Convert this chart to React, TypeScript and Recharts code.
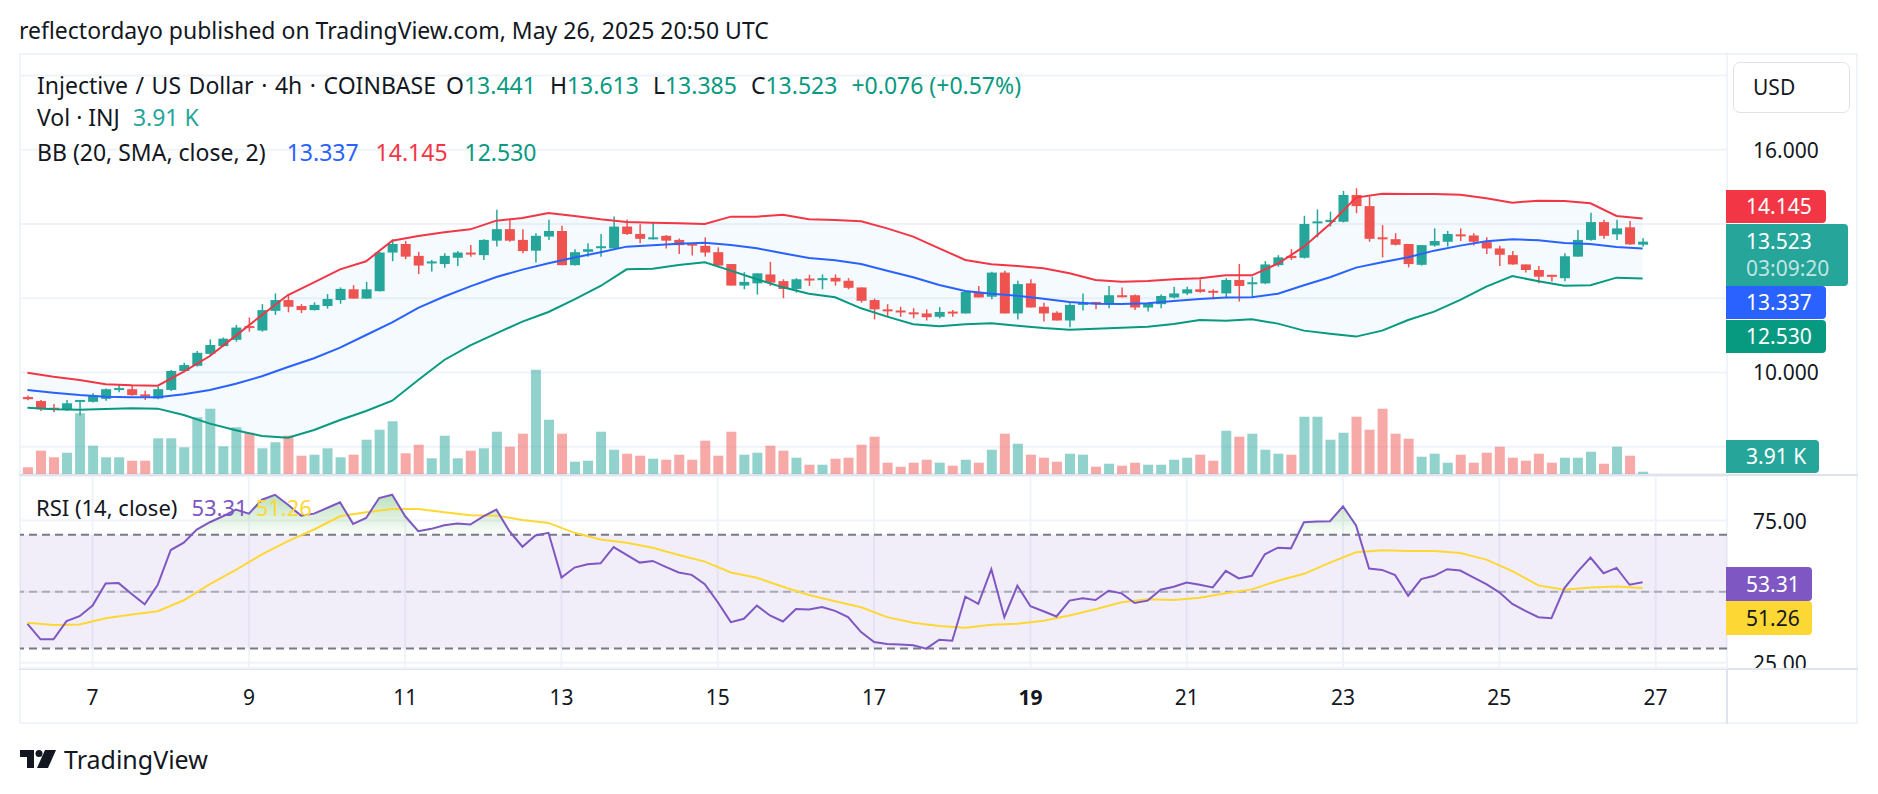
import React from 'react';
import {
  ComposedChart, Bar, Line, Area, XAxis, YAxis, CartesianGrid,
  ReferenceLine, ReferenceArea, Cell,
} from 'recharts';

// ---------- styling constants ----------
const FONT = '"Noto Sans", "Open Sans", Roboto, sans-serif';
const TEXT = '#131722';
const GREEN = '#26a69a';
const RED = '#ef5350';
const GRID = '#f0f3fa';
const SEP = '#e0e3eb';

// ---------- data ----------
// 4h candles, x index counted in 4h steps from May 6 00:00 UTC; first visible candle = index 1
const FIRST_INDEX = 1;

const OPEN = [9.34, 9.23, 9.05, 8.99, 9.23, 9.21, 9.29, 9.55, 9.55, 9.41,
  9.30, 9.53, 10.04, 10.18, 10.50, 10.71, 10.88, 11.25, 11.13, 11.66,
  11.95, 11.79, 11.68, 11.79, 11.95, 12.24, 11.99, 12.19, 13.23, 13.46,
  13.14, 12.94, 12.92, 13.09, 13.23, 13.16, 13.55, 13.86, 13.57, 13.28,
  13.66, 13.81, 12.89, 13.25, 13.37, 13.34, 13.93, 13.73, 13.59, 13.68,
  13.57, 13.47, 13.41, 13.24, 12.92, 12.34, 12.40, 12.64, 12.46, 12.25,
  12.53, 12.51, 12.55, 12.47, 12.29, 11.95, 11.70, 11.67, 11.62, 11.59,
  11.50, 11.64, 11.59, 12.17, 12.04, 12.69, 11.59, 12.40, 11.77, 11.61,
  11.40, 11.82, 11.90, 11.84, 12.08, 12.08, 11.75, 11.84, 12.02, 12.13,
  12.24, 12.20, 12.13, 12.49, 12.38, 12.40, 12.89, 13.14, 13.09, 14.03,
  14.05, 14.06, 14.78, 14.48, 13.64, 13.59, 13.46, 12.90, 13.42, 13.52,
  13.72, 13.69, 13.51, 13.34, 13.16, 12.91, 12.76, 12.63, 12.54, 13.12,
  13.57, 14.05, 13.72, 13.91, 13.441];

const HIGH = [9.38, 9.26, 9.15, 9.26, 9.26, 9.44, 9.57, 9.66, 9.64, 9.51,
  9.62, 10.07, 10.26, 10.58, 10.89, 10.94, 11.28, 11.48, 11.84, 12.13,
  12.09, 11.84, 11.89, 12.11, 12.29, 12.35, 12.44, 13.25, 13.59, 13.54,
  13.25, 13.03, 13.21, 13.27, 13.43, 13.59, 14.38, 14.13, 13.86, 13.75,
  14.11, 13.95, 13.32, 13.48, 13.73, 14.20, 14.12, 13.99, 14.04, 13.70,
  13.61, 13.47, 13.64, 13.37, 12.92, 12.70, 12.67, 12.98, 12.51, 12.54,
  12.63, 12.64, 12.64, 12.54, 12.29, 11.99, 11.84, 11.77, 11.73, 11.70,
  11.76, 11.68, 12.17, 12.33, 12.71, 12.74, 12.47, 12.51, 11.88, 11.65,
  11.88, 12.13, 11.90, 12.33, 12.29, 12.10, 11.88, 12.10, 12.31, 12.31,
  12.51, 12.24, 12.54, 12.92, 12.58, 13.00, 13.16, 13.32, 14.22, 14.39,
  14.33, 14.89, 14.96, 14.74, 13.97, 13.75, 13.46, 13.43, 13.88, 13.81,
  13.88, 13.75, 13.64, 13.41, 13.27, 12.91, 12.87, 12.63, 13.21, 13.84,
  14.30, 14.11, 14.11, 14.08, 13.613];

const LOW = [9.25, 8.96, 8.93, 8.96, 8.84, 9.19, 9.24, 9.47, 9.37, 9.26,
  9.28, 9.50, 10.01, 10.16, 10.44, 10.69, 10.83, 11.10, 11.10, 11.55,
  11.62, 11.60, 11.67, 11.72, 11.85, 11.99, 11.99, 12.18, 13.00, 13.05,
  12.65, 12.72, 12.82, 12.87, 13.12, 13.03, 13.39, 13.52, 13.21, 12.96,
  13.57, 12.89, 12.88, 13.12, 13.12, 13.30, 13.70, 13.48, 13.58, 13.34,
  13.19, 13.15, 13.12, 12.85, 12.34, 12.24, 12.10, 12.33, 12.00, 12.15,
  12.33, 12.24, 12.34, 12.24, 11.88, 11.43, 11.52, 11.50, 11.46, 11.40,
  11.46, 11.50, 11.59, 12.02, 11.97, 11.59, 11.43, 11.75, 11.37, 11.40,
  11.22, 11.67, 11.70, 11.73, 12.02, 11.68, 11.64, 11.73, 11.99, 12.09,
  12.15, 11.97, 12.00, 11.91, 12.03, 12.38, 12.85, 13.03, 13.07, 13.64,
  13.93, 14.04, 14.29, 13.52, 13.10, 13.42, 12.83, 12.88, 13.39, 13.39,
  13.54, 13.42, 13.19, 12.87, 12.90, 12.69, 12.40, 12.45, 12.46, 13.12,
  13.55, 13.60, 13.57, 13.43, 13.385];

const CLOSE = [9.28, 9.01, 9.02, 9.17, 9.26, 9.37, 9.55, 9.58, 9.39, 9.35,
  9.55, 10.04, 10.20, 10.53, 10.74, 10.91, 11.21, 11.21, 11.68, 11.95,
  11.77, 11.68, 11.82, 11.98, 12.25, 11.99, 12.24, 13.23, 13.46, 13.12,
  12.88, 12.99, 13.14, 13.23, 13.19, 13.57, 13.86, 13.55, 13.27, 13.68,
  13.81, 12.89, 13.24, 13.32, 13.40, 13.93, 13.73, 13.60, 13.64, 13.55,
  13.43, 13.42, 13.23, 12.88, 12.34, 12.44, 12.67, 12.42, 12.25, 12.51,
  12.49, 12.54, 12.45, 12.28, 11.93, 11.70, 11.65, 11.62, 11.58, 11.49,
  11.63, 11.61, 12.17, 12.02, 12.69, 11.59, 12.38, 11.75, 11.59, 11.40,
  11.82, 11.89, 11.85, 12.08, 12.04, 11.75, 11.86, 12.06, 12.13, 12.24,
  12.17, 12.16, 12.49, 12.33, 12.43, 12.91, 13.10, 13.08, 14.00, 14.07,
  14.11, 14.78, 14.48, 13.60, 13.59, 13.44, 12.92, 13.43, 13.54, 13.73,
  13.68, 13.52, 13.34, 13.17, 12.91, 12.76, 12.58, 12.58, 13.13, 13.57,
  14.05, 13.68, 13.88, 13.45, 13.523];

// volume in thousands of INJ
const VOLUME = [11.4, 39.6, 28.4, 36.2, 103.2, 48.1, 28.4, 28.4, 22.6, 22.6,
  60.7, 60.7, 45.4, 96.4, 111.0, 47.1, 79.4, 70.2, 43.7, 53.9,
  65.1, 31.1, 32.8, 43.7, 28.4, 32.8, 58.3, 75.3, 89.6, 35.2,
  49.8, 26.7, 65.1, 26.7, 39.6, 43.7, 71.9, 46.4, 68.5, 177.3,
  92.3, 68.5, 20.9, 22.6, 71.9, 41.3, 34.5, 31.1, 26.0, 24.3,
  32.8, 24.3, 56.6, 31.1, 71.9, 32.8, 36.2, 48.1, 39.6, 27.7,
  15.8, 15.8, 26.0, 27.7, 49.8, 63.4, 19.2, 12.4, 19.2, 24.3,
  19.2, 14.1, 24.3, 19.2, 41.3, 68.5, 51.5, 32.8, 27.7, 20.9,
  34.5, 32.8, 12.4, 17.5, 14.1, 19.2, 15.8, 15.8, 24.3, 27.7,
  32.8, 22.6, 73.6, 63.4, 68.5, 41.3, 34.5, 32.8, 97.4, 97.4,
  58.3, 70.2, 97.4, 75.3, 111.0, 68.5, 60.0, 29.4, 34.5, 19.2,
  32.8, 19.2, 36.2, 46.4, 27.7, 22.6, 34.5, 19.2, 27.7, 27.7,
  37.9, 17.5, 46.4, 31.1, 3.91];

// Bollinger bands, read at every second candle
const BB_IDX = [1, 3, 5, 7, 9, 11, 13, 15, 17, 19, 21, 23, 25, 27, 29, 31, 33, 35, 37, 39,
  41, 43, 45, 47, 49, 51, 53, 55, 57, 59, 61, 63, 65, 67, 69, 71, 73, 75, 77, 79,
  81, 83, 85, 87, 89, 91, 93, 95, 97, 99, 101, 103, 105, 107, 109, 111, 113, 115, 117, 119,
  121, 123, 125];
const BB_UPPER = [9.995, 9.888, 9.798, 9.681, 9.654, 9.645, 10.022, 10.444, 10.992, 11.548,
  12.087, 12.428, 12.778, 12.994, 13.550, 13.676, 13.775, 13.855, 14.089, 14.161,
  14.295, 14.215, 14.125, 14.053, 14.035, 14.017, 13.999, 14.197, 14.197, 14.250,
  14.125, 14.107, 14.071, 13.882, 13.658, 13.344, 13.030, 12.913, 12.868, 12.805,
  12.671, 12.491, 12.446, 12.464, 12.509, 12.536, 12.617, 12.617, 12.931, 13.389,
  14.000, 14.709, 14.816, 14.807, 14.807, 14.789, 14.691, 14.574, 14.628, 14.619,
  14.556, 14.215, 14.145];
const BB_MIDDLE = [9.529, 9.457, 9.394, 9.349, 9.331, 9.331, 9.412, 9.529, 9.699, 9.897,
  10.148, 10.382, 10.669, 11.010, 11.350, 11.740, 12.047, 12.320, 12.572, 12.770,
  12.943, 13.096, 13.236, 13.389, 13.425, 13.470, 13.496, 13.434, 13.344, 13.209,
  13.083, 13.021, 12.922, 12.742, 12.563, 12.356, 12.195, 12.123, 12.069, 11.988,
  11.899, 11.854, 11.845, 11.863, 11.925, 11.979, 12.016, 12.025, 12.123, 12.348,
  12.563, 12.824, 12.967, 13.102, 13.281, 13.416, 13.533, 13.587, 13.560, 13.488,
  13.461, 13.380, 13.337];
const BB_LOWER = [9.053, 9.008, 8.999, 9.017, 9.035, 9.026, 8.855, 8.622, 8.442, 8.290,
  8.245, 8.452, 8.721, 8.963, 9.241, 9.798, 10.337, 10.732, 11.055, 11.369,
  11.630, 11.970, 12.329, 12.778, 12.796, 12.895, 12.967, 12.742, 12.509, 12.293,
  12.123, 12.024, 11.728, 11.504, 11.297, 11.243, 11.297, 11.324, 11.261, 11.198,
  11.153, 11.180, 11.207, 11.234, 11.306, 11.414, 11.396, 11.432, 11.316, 11.127,
  11.046, 10.966, 11.127, 11.414, 11.639, 11.953, 12.312, 12.599, 12.455, 12.339,
  12.348, 12.554, 12.530];

const RSI = [38.72, 33.26, 33.26, 39.65, 41.40, 45.12, 52.91, 53.02, 49.19, 45.58,
  52.44, 64.65, 67.21, 71.86, 74.42, 76.51, 78.84, 77.44, 82.33, 84.07,
  80.58, 76.74, 77.44, 79.42, 81.40, 73.84, 75.93, 82.91, 84.07, 76.51,
  71.28, 72.09, 73.37, 73.95, 73.60, 76.51, 78.84, 71.28, 65.81, 69.77,
  70.70, 55.00, 58.49, 59.65, 60.00, 65.70, 62.91, 60.23, 60.81, 58.72,
  56.74, 55.93, 52.67, 46.28, 39.30, 40.47, 45.12, 41.63, 39.53, 43.95,
  43.72, 44.65, 43.26, 41.05, 35.81, 32.33, 31.63, 31.40, 31.16, 30.00,
  33.14, 32.79, 48.26, 45.70, 57.91, 41.05, 52.09, 44.88, 43.14, 41.28,
  46.86, 47.67, 47.09, 50.35, 49.42, 46.05, 46.86, 50.70, 51.74, 53.26,
  52.44, 51.51, 57.33, 54.65, 55.58, 63.14, 65.47, 65.23, 74.42, 74.65,
  74.77, 80.00, 73.26, 58.14, 57.67, 55.81, 48.60, 54.42, 55.58, 57.91,
  57.44, 55.00, 52.67, 49.77, 45.70, 43.26, 41.05, 40.70, 51.28, 56.98,
  61.98, 56.51, 58.37, 52.44, 53.31];

// RSI moving average, read at every second candle
const RSI_MA_IDX = BB_IDX;
const RSI_MA = [39.07, 38.26, 38.49, 40.70, 41.98, 43.14, 46.98, 52.67, 57.67, 63.14,
  67.79, 71.86, 76.51, 77.91, 79.07, 79.07, 77.91, 76.86, 76.74, 75.23,
  74.19, 70.70, 68.37, 67.21, 65.47, 62.91, 60.58, 56.74, 54.88, 51.74,
  48.84, 46.63, 44.53, 41.05, 39.07, 37.91, 37.33, 38.37, 38.72, 39.77,
  41.63, 43.84, 46.28, 47.33, 47.09, 47.91, 49.42, 50.81, 53.84, 56.28,
  60.23, 63.84, 64.53, 64.30, 64.30, 63.60, 61.28, 57.21, 52.21, 50.70,
  51.51, 51.86, 51.26];

// time axis: day-of-month labels (every 2 days), at candle index of 00:00 UTC
const DAY_TICKS = [6, 18, 30, 42, 54, 66, 78, 90, 102, 114, 126];
const DAY_LABELS = ['7', '9', '11', '13', '15', '17', '19', '21', '23', '25', '27'];
const DAY_BOLD = ['19'];

// grid levels; only the levels not hidden behind tags carry a visible label
const PRICE_TICKS = [8, 10, 12, 14, 16, 18];
const PRICE_LABELED = [10, 16];
const RSI_TICKS = [25, 50, 75];
const RSI_LABELED = [25, 75];

const CHANGE_TEXT = '+0.076 (+0.57%)';
const COUNTDOWN = '03:09:20';

// ---------- build table ----------
type Row = any;
const rows: Row[] = OPEN.map((o, k) => ({
  i: FIRST_INDEX + k,
  o, h: HIGH[k], l: LOW[k], c: CLOSE[k],
  range: [LOW[k], HIGH[k]],
  vol: VOLUME[k],
  rsi: RSI[k],
  ob: [70, Math.max(70, RSI[k])],
}));
BB_IDX.forEach((i, k) => {
  const r = rows[i - FIRST_INDEX];
  r.bbU = BB_UPPER[k];
  r.bbM = BB_MIDDLE[k];
  r.bbL = BB_LOWER[k];
  r.bbBand = [BB_LOWER[k], BB_UPPER[k]];
});
RSI_MA_IDX.forEach((i, k) => { rows[i - FIRST_INDEX].rsiMa = RSI_MA[k]; });

const last = rows[rows.length - 1];

// ---------- layout ----------
const CHART_LEFT = 20;
const CHART_W = 1838;
const AXIS_W = 131;
const AXIS_X = CHART_LEFT + CHART_W - AXIS_W; // 1727
const PRICE_TOP = 54;
const PRICE_H = 420;
const RSI_TOP = 476;
const RSI_PLOT_H = 192;
const TIME_H = 55;
const X_DOMAIN: [number, number] = [0.426, 131.48];
const P_DOMAIN: [number, number] = [7.266, 18.577];
const VOL_MAX = 714;
const R_DOMAIN: [number, number] = [23.18, 90.67];
const FS = 21;
const LFS = 23;

const priceY = (p: number) => PRICE_TOP + (P_DOMAIN[1] - p) / (P_DOMAIN[1] - P_DOMAIN[0]) * PRICE_H;
const volY = (v: number) => PRICE_TOP + PRICE_H - (v / VOL_MAX) * PRICE_H;
const rsiY = (r: number) => RSI_TOP + (R_DOMAIN[1] - r) / (R_DOMAIN[1] - R_DOMAIN[0]) * RSI_PLOT_H;

// ---------- custom renderers ----------
const Candle = (props: any) => {
  const { x, y, width, height, payload } = props;
  if (!payload || height == null) return null;
  const { o, h, l, c } = payload;
  const color = c >= o ? GREEN : RED;
  const k = height / (h - l);
  const yO = y + (h - o) * k;
  const yC = y + (h - c) * k;
  const top = Math.min(yO, yC);
  const bh = Math.max(Math.abs(yO - yC), 2);
  const cx = x + width / 2;
  return (
    <g>
      <line x1={cx} x2={cx} y1={y} y2={y + height} stroke={color} strokeWidth={1.5} />
      <rect x={x} y={top} width={width} height={bh} fill={color} />
    </g>
  );
};

const PriceTick = (props: any) => {
  const { x, y, payload } = props;
  if (!PRICE_LABELED.includes(payload.value)) return <g />;
  return (
    <text x={x + 18} y={y} dominantBaseline="central" textAnchor="start"
      fontSize={FS} fontFamily={FONT} fill={TEXT}>{Number(payload.value).toFixed(3)}</text>
  );
};

const RsiTick = (props: any) => {
  const { x, y, payload } = props;
  if (!RSI_LABELED.includes(payload.value)) return <g />;
  return (
    <g clipPath="url(#rsiAxisClip)">
      <text x={x + 18} y={y} dominantBaseline="central" textAnchor="start"
        fontSize={FS} fontFamily={FONT} fill={TEXT}>{Number(payload.value).toFixed(2)}</text>
    </g>
  );
};

const DayTick = (props: any) => {
  const { x, y, payload } = props;
  const k = DAY_TICKS.indexOf(payload.value);
  const label = DAY_LABELS[k] ?? '';
  return (
    <text x={x} y={y + 21} textAnchor="middle" dominantBaseline="central"
      fontSize={FS} fontFamily={FONT} fill={TEXT}
      fontWeight={DAY_BOLD.includes(label) ? 700 : 400}>{label}</text>
  );
};

const Tag = ({ top, height, width, bg, color, children }: any) => (
  <div style={{
    position: 'absolute', left: AXIS_X - 1, top, width, height, background: bg, color,
    borderRadius: '0 4px 4px 0', fontSize: FS, lineHeight: `${height}px`, paddingLeft: 20,
    boxSizing: 'border-box', whiteSpace: 'nowrap',
  }}>{children}</div>
);

const fmt3 = (v: number) => v.toFixed(3);

export default function App() {
  // stack the price tags like the reference (last price anchored)
  const mainTop = priceY(last.c) - 17.5;
  const mainH = 62;
  const tagH = 33;
  const upTop = Math.min(priceY(BB_UPPER[BB_UPPER.length - 1]) - 16.5, mainTop - 1 - tagH);
  const midTop = Math.max(priceY(BB_MIDDLE[BB_MIDDLE.length - 1]) - 16.5, mainTop + mainH);
  const lowTop = Math.max(priceY(BB_LOWER[BB_LOWER.length - 1]) - 16.5, midTop + tagH + 1);
  const volTop = Math.min(volY(last.vol) - 16.5, PRICE_TOP + PRICE_H - 1 - tagH);
  const rsiTop = rsiY(last.rsi) - 15.5;
  const maTop = Math.max(rsiY(RSI_MA[RSI_MA.length - 1]) - 15.5, rsiTop + 34);

  const legendVal = { color: '#089981' };
  const row = { position: 'absolute' as const, left: 37, fontSize: LFS, lineHeight: '28px', whiteSpace: 'nowrap' as const, display: 'flex' };

  return (
    <div style={{
      position: 'absolute', left: 0, top: 0, width: 1878, height: 794, background: '#fff',
      overflow: 'hidden', fontFamily: FONT, color: TEXT,
    }}>
      {/* header */}
      <div style={{ position: 'absolute', left: 19, top: 16, fontSize: 23, lineHeight: '28px', whiteSpace: 'nowrap' }}>
        reflectordayo published on TradingView.com, May 26, 2025 20:50 UTC
      </div>

      {/* frame */}
      <div style={{ position: 'absolute', left: 19, top: 53, width: 1839, height: 671, border: `2px solid ${GRID}`, boxSizing: 'border-box' }} />
      <div style={{ position: 'absolute', left: 19, top: 474, width: 1839, height: 2, background: SEP }} />
      <div style={{ position: 'absolute', left: 19, top: 668, width: 1839, height: 2, background: SEP }} />
      <div style={{ position: 'absolute', left: AXIS_X - 1, top: 53, width: 2, height: 671, background: SEP }} />

      {/* price pane */}
      <div style={{ position: 'absolute', left: CHART_LEFT, top: PRICE_TOP }}>
        <ComposedChart width={CHART_W} height={PRICE_H} data={rows} margin={{ top: 0, right: 0, bottom: 0, left: 0 }}>
          <XAxis xAxisId="x" dataKey="i" type="number" domain={X_DOMAIN} allowDataOverflow ticks={DAY_TICKS}
            interval={0} height={0} tick={false} axisLine={false} tickLine={false} />
          <XAxis xAxisId="v" dataKey="i" type="number" domain={X_DOMAIN} allowDataOverflow hide />
          <YAxis yAxisId="p" orientation="right" width={AXIS_W} domain={P_DOMAIN} allowDataOverflow
            ticks={PRICE_TICKS} interval={0} axisLine={false} tickLine={false} tick={<PriceTick />} />
          <YAxis yAxisId="v" hide domain={[0, VOL_MAX]} allowDataOverflow />
          <CartesianGrid xAxisId="x" yAxisId="p" stroke={GRID} strokeWidth={2} />
          <Bar xAxisId="v" yAxisId="v" dataKey="vol" barSize={10} isAnimationActive={false}>
            {rows.map((r) => (
              <Cell key={r.i} fill={r.c >= r.o ? 'rgba(38,166,154,0.5)' : 'rgba(239,83,80,0.5)'} />
            ))}
          </Bar>
          <Area xAxisId="x" yAxisId="p" type="linear" dataKey="bbBand" stroke="none" fill="#2196f3"
            fillOpacity={0.05} connectNulls isAnimationActive={false} activeDot={false} />
          <Line xAxisId="x" yAxisId="p" type="linear" dataKey="bbU" stroke="#f23645" strokeWidth={2}
            dot={false} connectNulls isAnimationActive={false} activeDot={false} />
          <Line xAxisId="x" yAxisId="p" type="linear" dataKey="bbM" stroke="#2962ff" strokeWidth={2}
            dot={false} connectNulls isAnimationActive={false} activeDot={false} />
          <Line xAxisId="x" yAxisId="p" type="linear" dataKey="bbL" stroke="#089981" strokeWidth={2}
            dot={false} connectNulls isAnimationActive={false} activeDot={false} />
          <Bar xAxisId="x" yAxisId="p" dataKey="range" barSize={10} isAnimationActive={false}
            shape={(p: any) => <Candle {...p} />} />
        </ComposedChart>
      </div>

      {/* RSI pane + time axis */}
      <div style={{ position: 'absolute', left: CHART_LEFT, top: RSI_TOP }}>
        <ComposedChart width={CHART_W} height={RSI_PLOT_H + TIME_H} data={rows} margin={{ top: 0, right: 0, bottom: 0, left: 0 }}>
          <defs>
            <linearGradient id="obFill" x1="0" y1="0" x2="0" y2="1">
              <stop offset="0" stopColor="#4caf50" stopOpacity={0.38} />
              <stop offset="1" stopColor="#4caf50" stopOpacity={0.02} />
            </linearGradient>
            <clipPath id="rsiAxisClip">
              <rect x={0} y={0} width={CHART_W} height={RSI_PLOT_H} />
            </clipPath>
          </defs>
          <XAxis dataKey="i" type="number" domain={X_DOMAIN} allowDataOverflow ticks={DAY_TICKS} interval={0}
            height={TIME_H} tick={<DayTick />} tickLine={false} axisLine={false} />
          <YAxis orientation="right" width={AXIS_W} domain={R_DOMAIN} allowDataOverflow ticks={RSI_TICKS}
            interval={0} axisLine={false} tickLine={false} tick={<RsiTick />} />
          <CartesianGrid stroke={GRID} strokeWidth={2} />
          <ReferenceArea y1={30} y2={70} fill="#7e57c2" fillOpacity={0.1} stroke="none" />
          <ReferenceLine y={70} stroke="#787b86" strokeWidth={2} strokeDasharray="8 5" />
          <ReferenceLine y={50} stroke="rgba(120,123,134,0.55)" strokeWidth={2} strokeDasharray="8 5" />
          <ReferenceLine y={30} stroke="#787b86" strokeWidth={2} strokeDasharray="8 5" />
          <Area type="linear" dataKey="ob" stroke="none" fill="url(#obFill)" fillOpacity={1}
            isAnimationActive={false} activeDot={false} />
          <Line type="linear" dataKey="rsiMa" stroke="#fdd835" strokeWidth={2} dot={false} connectNulls
            isAnimationActive={false} activeDot={false} />
          <Line type="linear" dataKey="rsi" stroke="#7e57c2" strokeWidth={2} dot={false}
            isAnimationActive={false} activeDot={false} />
        </ComposedChart>
      </div>

      {/* legends */}
      <div style={{ ...row, top: 71 }}>
        <span style={{ wordSpacing: 1.6 }}>Injective / US Dollar · 4h · COINBASE</span>
        <span style={{ marginLeft: 10 }}>O<span style={legendVal}>{fmt3(last.o)}</span></span>
        <span style={{ marginLeft: 14 }}>H<span style={legendVal}>{fmt3(last.h)}</span></span>
        <span style={{ marginLeft: 14 }}>L<span style={legendVal}>{fmt3(last.l)}</span></span>
        <span style={{ marginLeft: 14 }}>C<span style={legendVal}>{fmt3(last.c)}</span></span>
        <span style={{ ...legendVal, marginLeft: 14 }}>{CHANGE_TEXT}</span>
      </div>
      <div style={{ ...row, top: 103 }}>
        <span>Vol · INJ</span>
        <span style={{ color: GREEN, marginLeft: 13 }}>{last.vol.toFixed(2)} K</span>
      </div>
      <div style={{ ...row, top: 138 }}>
        <span>BB (20, SMA, close, 2)</span>
        <span style={{ color: '#2962ff', marginLeft: 21 }}>{fmt3(BB_MIDDLE[BB_MIDDLE.length - 1])}</span>
        <span style={{ color: '#f23645', marginLeft: 17 }}>{fmt3(BB_UPPER[BB_UPPER.length - 1])}</span>
        <span style={{ color: '#089981', marginLeft: 17 }}>{fmt3(BB_LOWER[BB_LOWER.length - 1])}</span>
      </div>
      <div style={{ ...row, left: 36, top: 493, fontSize: 22 }}>
        <span>RSI (14, close)</span>
        <span style={{ color: '#7e57c2', marginLeft: 14 }}>{last.rsi.toFixed(2)}</span>
        <span style={{ color: '#fdd835', marginLeft: 8 }}>{RSI_MA[RSI_MA.length - 1].toFixed(2)}</span>
      </div>

      {/* currency box */}
      <div style={{
        position: 'absolute', left: 1733, top: 62, width: 117, height: 51, border: `1px solid ${SEP}`,
        borderRadius: 7, boxSizing: 'border-box', fontSize: FS, lineHeight: '49px', paddingLeft: 19, background: '#fff',
      }}>USD</div>

      {/* axis tags */}
      <Tag top={upTop} height={tagH} width={100} bg="#f23645" color="#fff">{fmt3(BB_UPPER[BB_UPPER.length - 1])}</Tag>
      <div style={{
        position: 'absolute', left: AXIS_X - 1, top: mainTop, width: 122, height: mainH, background: GREEN,
        borderRadius: '0 4px 4px 0', paddingLeft: 20, paddingTop: 4, boxSizing: 'border-box', fontSize: FS,
        lineHeight: '27px', color: '#fff', whiteSpace: 'nowrap',
      }}>
        <div>{fmt3(last.c)}</div>
        <div style={{ color: 'rgba(255,255,255,0.72)' }}>{COUNTDOWN}</div>
      </div>
      <Tag top={midTop} height={tagH} width={100} bg="#2962ff" color="#fff">{fmt3(BB_MIDDLE[BB_MIDDLE.length - 1])}</Tag>
      <Tag top={lowTop} height={tagH} width={100} bg="#089981" color="#fff">{fmt3(BB_LOWER[BB_LOWER.length - 1])}</Tag>
      <Tag top={volTop} height={tagH} width={93} bg={GREEN} color="#fff">{last.vol.toFixed(2)} K</Tag>
      <Tag top={rsiTop} height={34} width={86} bg="#7e57c2" color="#fff">{last.rsi.toFixed(2)}</Tag>
      <Tag top={maTop} height={34} width={86} bg="#fdd835" color={TEXT}>{RSI_MA[RSI_MA.length - 1].toFixed(2)}</Tag>

      {/* logo */}
      <div style={{ position: 'absolute', left: 20, top: 745, display: 'flex', alignItems: 'center', gap: 8 }}>
        <svg width={36} height={20} viewBox="0 0 36 20">
          <path d="M0 1H14V19H7V8H0Z" fill={TEXT} />
          <circle cx={19} cy={4.5} r={3.5} fill={TEXT} />
          <path d="M25 1H36L28 19H17Z" fill={TEXT} />
        </svg>
        <span style={{ fontSize: 25, lineHeight: '28px', color: TEXT }}>TradingView</span>
      </div>
    </div>
  );
}
